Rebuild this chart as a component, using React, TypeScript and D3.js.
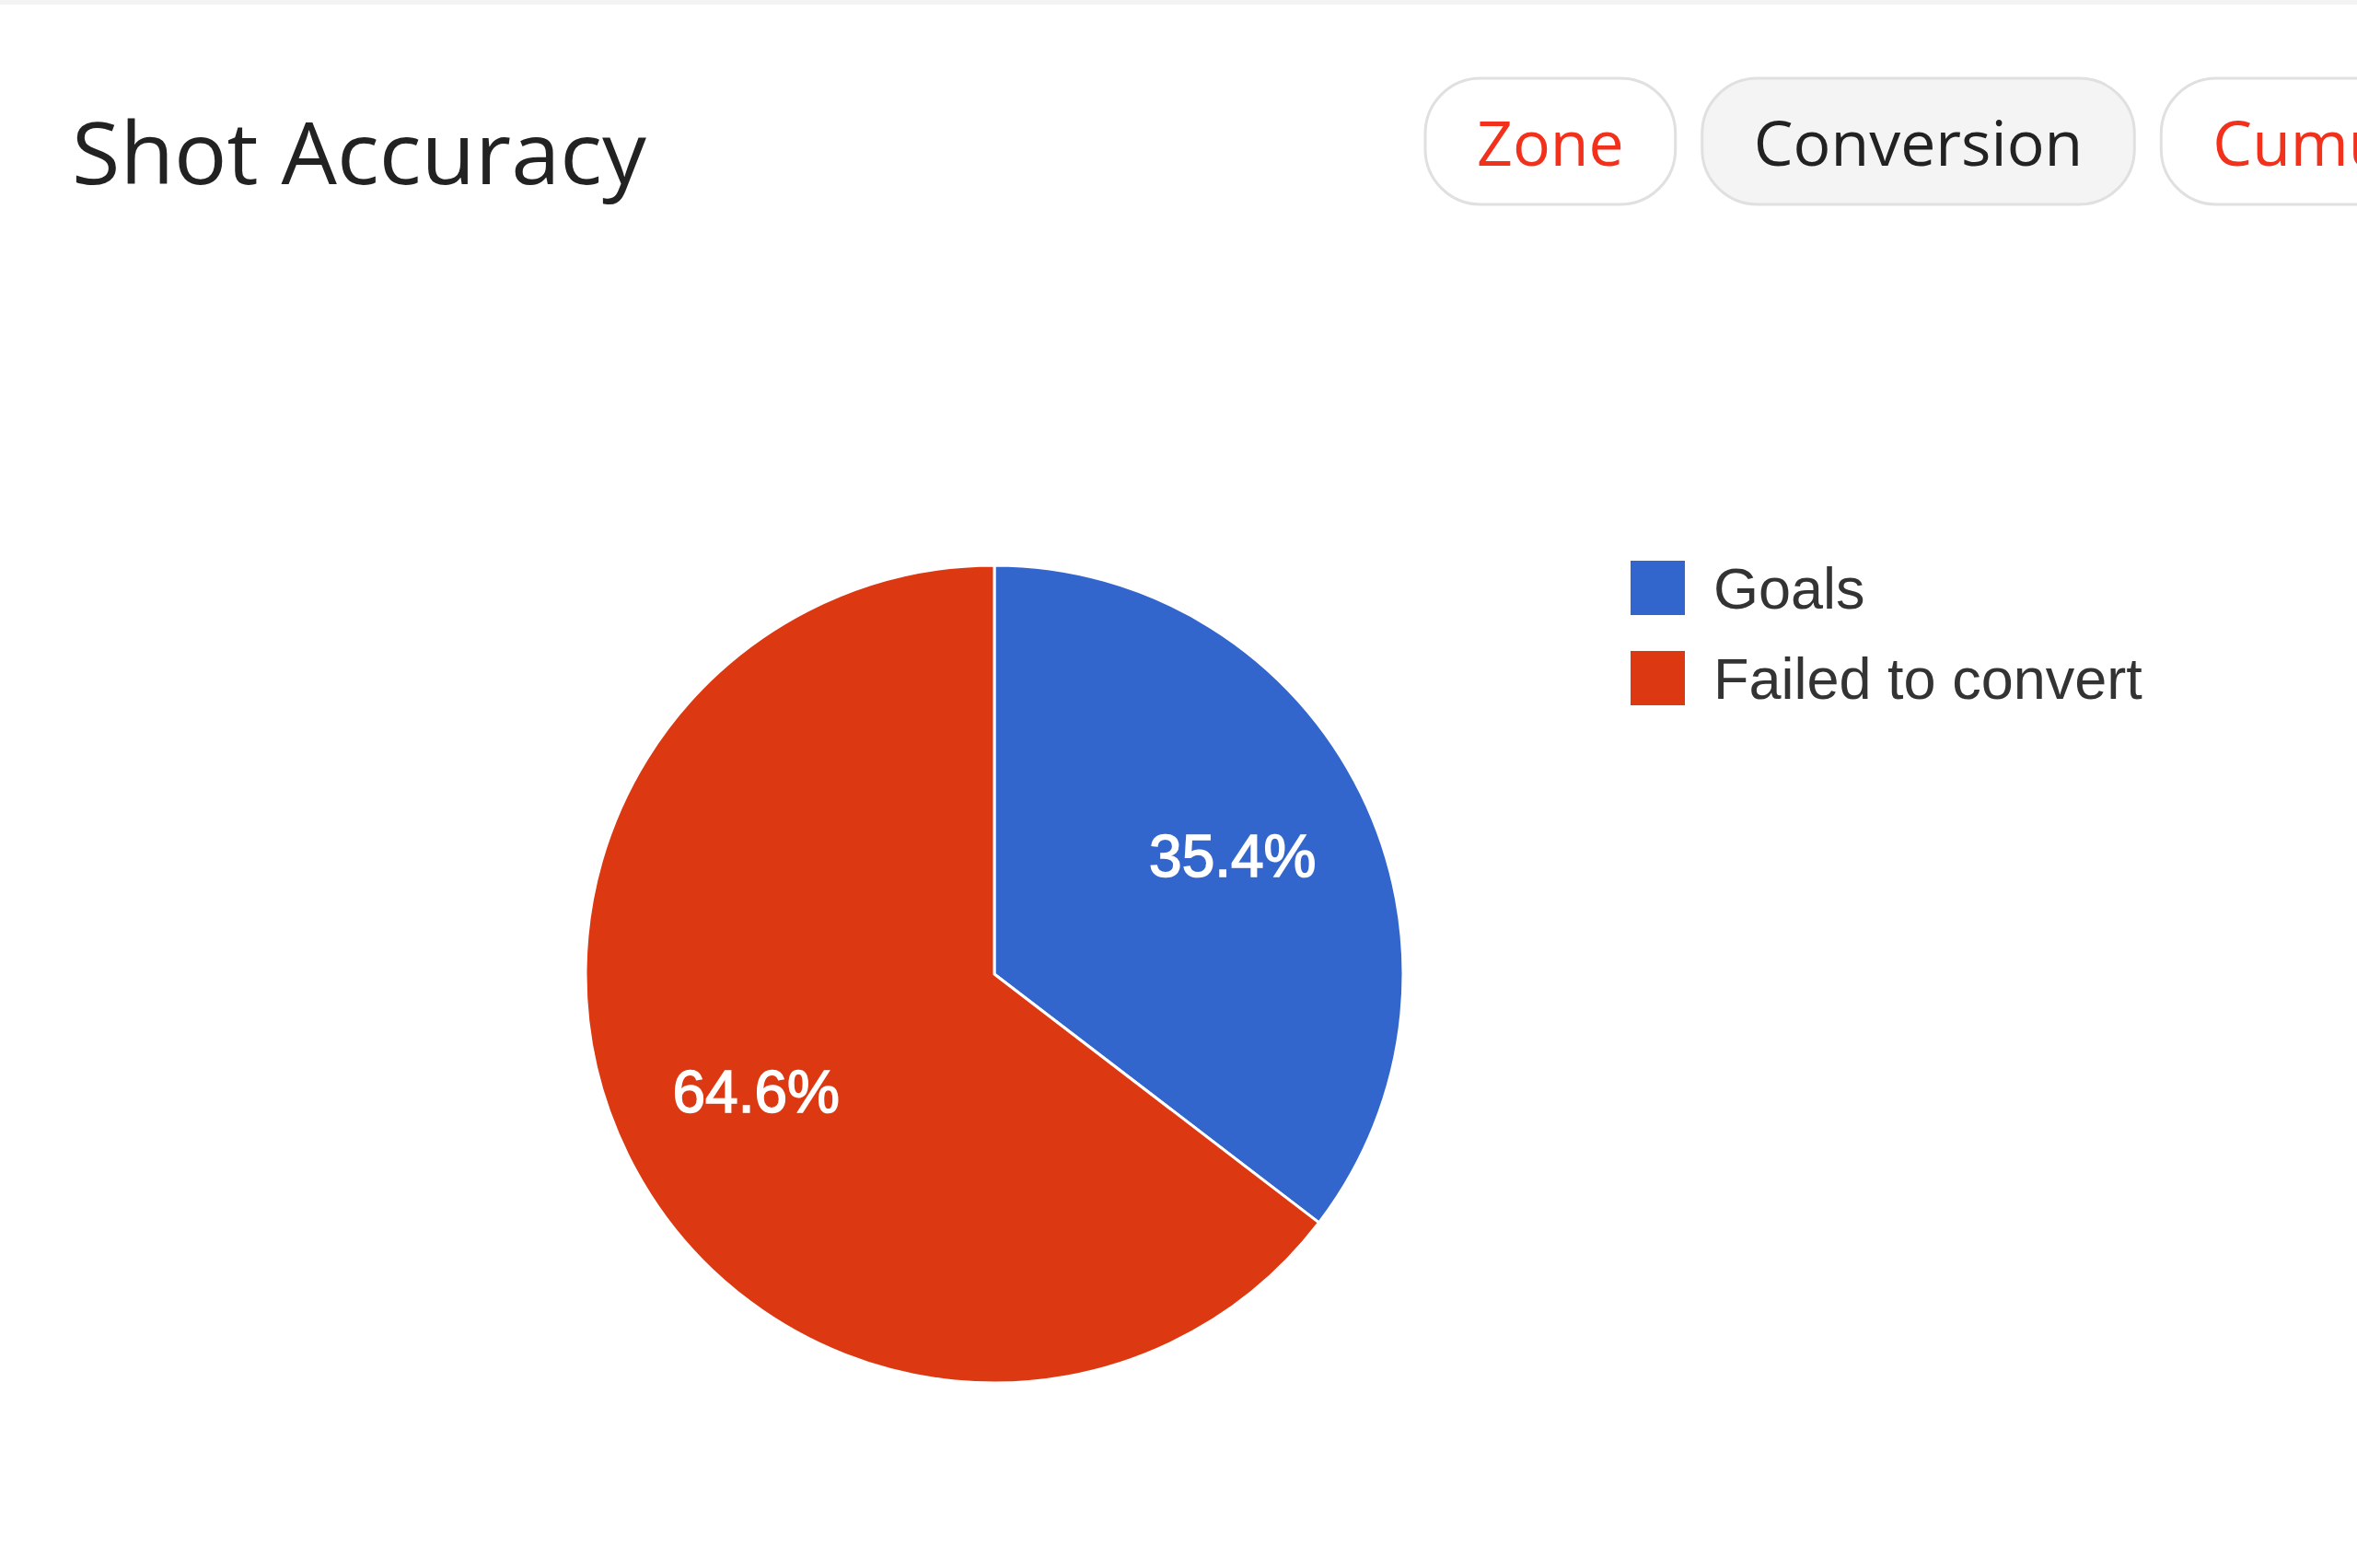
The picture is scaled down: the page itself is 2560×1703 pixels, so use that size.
import { useEffect, useRef } from "react";
import * as d3 from "d3";

// chart data
const sliceLabels = ["Goals", "Failed to convert"];
const sliceValues = [35.4, 64.6];
const sliceColors = ["#3366cc", "#dc3912"];
const tabLabels = ["Zone", "Conversion", "Cumulative"];
const activeTab = "Conversion";
const chartTitle = "Shot Accuracy";

const App = () => {
  const svgRef = useRef<SVGSVGElement>(null);

  useEffect(() => {
    const width = 2560;
    const height = 1703;
    const svg = d3.select(svgRef.current);
    svg.selectAll("*").remove();

    svg.append("rect").attr("width", width).attr("height", height).attr("fill", "#fff");
    // thin gray strip on top
    svg.append("rect").attr("width", width).attr("height", 5).attr("fill", "#f3f3f3");

    // title
    svg
      .append("text")
      .attr("x", 78)
      .attr("y", 200)
      .attr("font-family", "'Open Sans', sans-serif")
      .attr("font-size", 94)
      .attr("fill", "#222")
      .attr("textLength", 624)
      .attr("lengthAdjust", "spacingAndGlyphs")
      .text(chartTitle);

    // tab pills (last one runs off the right edge, like the original)
    const tabs = svg.append("g");
    let x = 1548;
    const pillTop = 85;
    const pillH = 137;
    const pad = 56;
    tabLabels.forEach((label) => {
      const g = tabs.append("g");
      const rect = g.append("rect");
      const t = g
        .append("text")
        .attr("x", x + pad)
        .attr("y", 180)
        .attr("font-family", "'Open Sans', sans-serif")
        .attr("font-size", 68)
        .attr("fill", label === activeTab ? "#222" : "#f2311c")
        .text(label);
      const tw = (t.node() as SVGTextElement).getComputedTextLength();
      const w = tw + pad * 2;
      rect
        .attr("x", x)
        .attr("y", pillTop)
        .attr("width", w)
        .attr("height", pillH)
        .attr("rx", 60)
        .attr("ry", 60)
        .attr("fill", label === activeTab ? "#f4f4f4" : "#fff")
        .attr("stroke", "#e0e0e0")
        .attr("stroke-width", 3);
      x += w + 29;
    });

    // pie
    const cx = 1080;
    const cy = 1058;
    const r = 444;
    const pie = d3.pie<number>().sort(null).value((d) => d);
    const arcs = pie(sliceValues);
    const arc = d3.arc<d3.PieArcDatum<number>>().innerRadius(0).outerRadius(r);
    const labelArc = d3
      .arc<d3.PieArcDatum<number>>()
      .innerRadius(r * 0.65)
      .outerRadius(r * 0.65);
    const total = d3.sum(sliceValues);

    const pg = svg.append("g").attr("transform", `translate(${cx},${cy})`);
    pg.selectAll("path")
      .data(arcs)
      .join("path")
      .attr("d", arc)
      .attr("fill", (_, i) => sliceColors[i])
      .attr("stroke", "#fff")
      .attr("stroke-width", 3)
      .attr("stroke-linejoin", "round");

    pg.selectAll("text")
      .data(arcs)
      .join("text")
      .attr("transform", (d) => `translate(${labelArc.centroid(d)})`)
      .attr("text-anchor", "middle")
      .attr("dominant-baseline", "central")
      .attr("font-family", "'Liberation Sans', Arial, sans-serif")
      .attr("font-size", 64)
      .attr("fill", "#fff")
      .attr("stroke", "#fff")
      .attr("stroke-width", 1.6)
      .text((d) => `${((d.data / total) * 100).toFixed(1)}%`);

    // legend
    const lg = svg.append("g").attr("transform", "translate(1771,609)");
    const rowGap = 98;
    const sq = 59;
    sliceLabels.forEach((label, i) => {
      lg.append("rect")
        .attr("x", 0)
        .attr("y", i * rowGap)
        .attr("width", sq)
        .attr("height", sq)
        .attr("fill", sliceColors[i]);
      lg.append("text")
        .attr("x", 90)
        .attr("y", i * rowGap + sq / 2)
        .attr("dominant-baseline", "central")
        .attr("font-family", "'Liberation Sans', Arial, sans-serif")
        .attr("font-size", 63)
        .attr("fill", "#333")
        .text(label);
    });
  }, []);

  return (
    <svg
      ref={svgRef}
      width={2560}
      height={1703}
      style={{ position: "absolute", left: 0, top: 0, display: "block" }}
    />
  );
};

export default App;
